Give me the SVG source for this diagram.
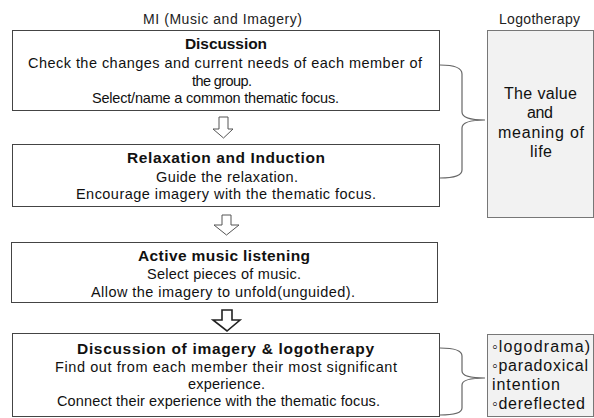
<svg xmlns="http://www.w3.org/2000/svg" width="594" height="418" viewBox="0 0 594 418">
<style>
.box{fill:#fff;stroke:#444;stroke-width:1}
.gbox{fill:#f2f2f2;stroke:#777;stroke-width:1}
text{font-family:"Liberation Sans","Noto Sans",sans-serif;fill:#111}
.hd{font-size:14px;text-anchor:middle;fill:#222}
.t{font-size:15.5px;font-weight:bold;text-anchor:middle}
.b{font-size:14.5px;text-anchor:middle}
.g{font-size:16px;text-anchor:middle}
.gl{font-size:16px}
.brace{fill:none;stroke:#666;stroke-width:1.2}
.arr{fill:#fff;stroke:#555;stroke-width:1}
</style>
<rect width="594" height="418" fill="#fff"/>
<text class="hd" x="222.5" y="24" textLength="159">MI (Music and Imagery)</text>
<text class="hd" x="539.5" y="24" textLength="81">Logotherapy</text>
<g id="discussion">
<rect class="box" x="12.5" y="30.5" width="427" height="80"/>
<text class="t" x="226" y="49" textLength="82">Discussion</text>
<text class="b" x="225" y="68" textLength="394">Check the changes and current needs of each member of</text>
<text class="b" x="222" y="86" textLength="60">the group.</text>
<text class="b" x="215.5" y="103" textLength="247">Select/name a common thematic focus.</text>
</g>
<g id="relaxation">
<rect class="box" x="12.5" y="144.5" width="427" height="62"/>
<text class="t" x="226" y="163" textLength="198">Relaxation and Induction</text>
<text class="b" x="227" y="182" textLength="142">Guide the relaxation.</text>
<text class="b" x="226" y="199" textLength="300">Encourage imagery with the thematic focus.</text>
</g>
<g id="listening">
<rect class="box" x="11.5" y="242.5" width="426" height="60"/>
<text class="t" x="224" y="261" textLength="172">Active music listening</text>
<text class="b" x="224" y="279" textLength="154">Select pieces of music.</text>
<text class="b" x="223" y="297" textLength="264">Allow the imagery to unfold(unguided).</text>
</g>
<g id="discussion2">
<rect class="box" x="12.5" y="333.5" width="427" height="83"/>
<text class="t" x="225.5" y="354" textLength="297">Discussion of imagery &amp; logotherapy</text>
<text class="b" x="226" y="372" textLength="342">Find out from each member their most significant</text>
<text class="b" x="226.5" y="389" textLength="77">experience.</text>
<text class="b" x="218.5" y="406" textLength="323">Connect their experience with the thematic focus.</text>
</g>
<g id="value">
<rect class="gbox" x="487.5" y="30.5" width="106" height="187"/>
<text class="g" x="540.5" y="99" textLength="73">The value</text>
<text class="g" x="540" y="118" textLength="26">and</text>
<text class="g" x="541" y="138" textLength="86">meaning of</text>
<text class="g" x="541" y="157" textLength="22">life</text>
</g>
<g id="techniques">
<rect class="gbox" x="487.5" y="334.5" width="106" height="82"/>
<text class="gl" x="492" y="352" textLength="98">◦logodrama)</text>
<text class="gl" x="492" y="371" textLength="96">◦paradoxical</text>
<text class="gl" x="492" y="390" textLength="68">intention</text>
<text class="gl" x="492" y="409" textLength="93">◦dereflected</text>
</g>
<g id="connectors">
<polygon class="arr" points="219,117 228,117 228,129 233,129 223.5,138 213,129 219,129"/>
<polygon class="arr" points="222,215 231,215 231,225 239,225 226.5,235 214,225 222,225"/>
<polygon class="arr" points="222,310 232,310 232,320 240,320 227,331 213,320 222,320" style="stroke:#222;stroke-width:1.6"/>
<path class="brace" d="M440,65 Q462,65 462,74 L462,112 Q462,120 485,120 Q462,120 462,128 L462,170 Q462,178 440,178"/>
<path class="brace" d="M440,348 Q462,348 462,356 L462,371 Q462,378 485,378 Q462,378 462,385 L462,408 Q462,415 440,415"/>
</g>
</svg>
